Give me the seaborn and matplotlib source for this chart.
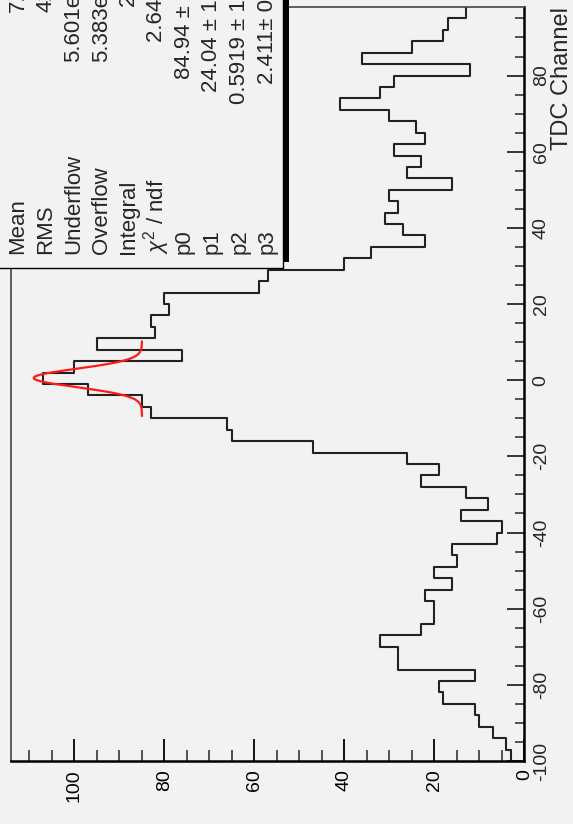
import numpy as np
import pandas as pd
import matplotlib
matplotlib.use("Agg")
import matplotlib.pyplot as plt
import seaborn as sns
from matplotlib.patches import Rectangle
from matplotlib.ticker import FixedLocator, MultipleLocator

# ---------------- data ----------------
channel_lo = -100          # first bin edge (TDC channel)
channel_hi = 98            # last bin edge
bin_width = 3
counts = [3, 4, 7, 10, 11, 18, 19, 11, 28, 28,
          32, 23, 20, 20, 22, 16, 20, 15, 16, 6,
          5, 14, 8, 13, 23, 19, 26, 47, 65, 66,
          83, 85, 97, 107, 100, 76, 95, 82, 83, 79,
          80, 59, 57, 40, 34, 22, 27, 31, 28, 30,
          16, 26, 23, 29, 22, 24, 30, 41, 32, 29,
          12, 36, 25, 18, 17, 13]
count_ticks = [0, 20, 40, 60, 80, 100]
channel_ticks = [-100, -80, -60, -40, -20, 0, 20, 40, 60, 80]
fit_params = [84.94, 24.04, 0.5919, 2.411]   # p0 + p1*gaus(p2, p3)
fit_range = [-9.4, 10.2]
underflow_txt = "5.601e+03"
overflow_txt = "5.383e+03"
chi2_txt = "2.645 / 1"
param_txt = ["84.94 \u00b1 1.86", "24.04 \u00b1 1.571", "0.5919 \u00b1 1.234", "2.411\u00b1 0.164"]
stat_labels = ["Mean", "RMS", "Underflow", "Overflow", "Integral",
               r"$\chi^{2}$ / ndf", "p0", "p1", "p2", "p3"]
x_label = "TDC Channel"

# ---------------- style ----------------
W, H = 573, 824
BG = "#f2f2f2"
sns.set_style("ticks", {"axes.facecolor": BG, "figure.facecolor": BG})
plt.rcParams["font.family"] = ["Liberation Sans", "DejaVu Sans"]
plt.rcParams["axes.unicode_minus"] = False
plt.rcParams["mathtext.fontset"] = "custom"
plt.rcParams["mathtext.rm"] = "Liberation Sans"
plt.rcParams["mathtext.it"] = "Liberation Sans:italic"


def fx(px):
    return px / W


def fy(py):
    return 1 - py / H


fig = plt.figure(figsize=(W / 100, H / 100), dpi=100, facecolor=BG)
ax = fig.add_axes([fx(10.7), fy(761), fx(524.3) - fx(10.7), fy(7) - fy(761)])
ax.set_facecolor(BG)

n_bins = len(counts)
centers = channel_lo + bin_width * (np.arange(n_bins) + 0.5)
df = pd.DataFrame({"channel": centers, "count": counts})
sns.histplot(data=df, y="channel", weights="count", binwidth=bin_width,
             binrange=(channel_lo, channel_hi),
             element="step", fill=False, color="#222222", linewidth=1.5, ax=ax)

# fit function
ch = np.linspace(fit_range[0], fit_range[1], 300)
p0, p1, p2, p3 = fit_params
fval = p0 + p1 * np.exp(-0.5 * ((ch - p2) / p3) ** 2)
ax.plot(fval, ch, color="#ff1a1a", lw=1.6)

ax.set_xlim(114.1, 0)
ax.set_ylim(channel_lo, channel_hi)

ax.xaxis.set_major_locator(FixedLocator(count_ticks))
ax.xaxis.set_minor_locator(MultipleLocator(5))
ax.yaxis.set_major_locator(FixedLocator(channel_ticks))
ax.yaxis.set_minor_locator(MultipleLocator(5))
ax.yaxis.tick_right()
ax.yaxis.set_label_position("right")

ax.tick_params(axis="x", which="major", direction="in", length=15.5, width=1.3,
               labelsize=14, labelrotation=90, pad=6, colors="black")
ax.tick_params(axis="x", which="minor", direction="in", length=8, width=1.1)
ax.tick_params(axis="y", which="major", direction="in", length=12, width=1.3,
               labelsize=14, labelrotation=90, pad=6, left=False, right=True)
ax.tick_params(axis="y", which="minor", direction="in", length=6.5, width=1.1,
               left=False, right=True)
for lab in ax.get_yticklabels():
    lab.set_va("center")

ax.set_xlabel("")
ax.set_ylabel(x_label, fontsize=17, loc="top", rotation=90)
ax.yaxis.set_label_coords(1.052, 1.0)

for side in ["bottom", "right"]:
    ax.spines[side].set_linewidth(1.8)
    ax.spines[side].set_color("black")
for side in ["top", "left"]:
    ax.spines[side].set_linewidth(1.2)
    ax.spines[side].set_color("#444444")

# ---------------- stats box ----------------
shadow = Rectangle((fx(20), fy(262)), fx(289) - fx(20), fy(-20) - fy(262),
                   transform=fig.transFigure, facecolor="black", edgecolor="none", zorder=5)
box = Rectangle((fx(-10), fy(268)), fx(283) - fx(-10), fy(-30) - fy(268),
                transform=fig.transFigure, facecolor=BG, edgecolor="black",
                linewidth=1.0, zorder=6)
fig.patches.extend([shadow, box])

cnt = np.array(counts, dtype=float)
mean = np.sum(cnt * centers) / cnt.sum()
rms = np.sqrt(np.sum(cnt * (centers - mean) ** 2) / cnt.sum())
values = [f"{mean:.4g}", f"{rms:.4g}", underflow_txt, overflow_txt,
          f"{int(cnt.sum())}", chi2_txt] + param_txt

for i, (lab, val) in enumerate(zip(stat_labels, values)):
    xc = 18 + 27.7 * i
    fig.text(fx(xc), fy(254), lab, rotation=90, rotation_mode="anchor",
             ha="left", va="center", fontsize=16, zorder=7)
    fig.text(fx(xc), fy(-44), val, rotation=90, rotation_mode="anchor",
             ha="right", va="center", fontsize=16, zorder=7)

fig.savefig("out.png", dpi=100, facecolor=BG)
